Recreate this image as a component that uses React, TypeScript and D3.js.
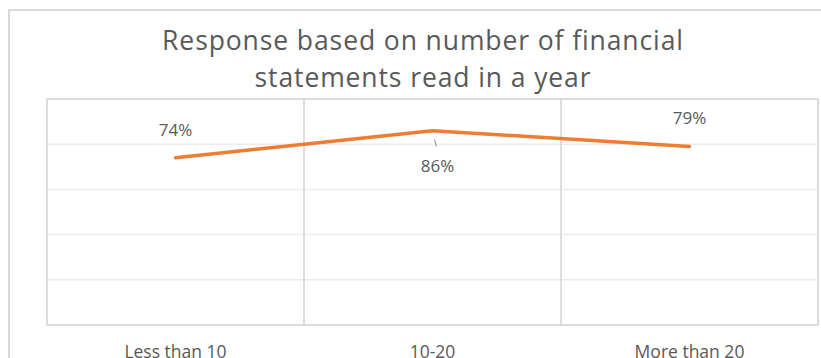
import React from "react";
import * as d3 from "d3";

const categories = ["Less than 10", "10-20", "More than 20"];
const values = [0.74, 0.86, 0.79];
const valueLabels = ["74%", "86%", "79%"];
const labelPlacement = ["above", "below", "above"];
const yTicks = [0, 0.2, 0.4, 0.6, 0.8, 1.0];
const titleLines = ["Response based on number of financial", "statements read in a year"];

const W = 821;
const H = 358;
const plot = { left: 47, right: 818, top: 99, bottom: 325 };

export default function App() {
  const x = d3.scaleBand<string>().domain(categories).range([plot.left, plot.right]).paddingInner(0).paddingOuter(0);
  const y = d3.scaleLinear().domain([0, 1]).range([plot.bottom, plot.top]);
  const cx = (c: string) => (x(c) as number) + x.bandwidth() / 2;
  const line = d3
    .line<number>()
    .x((_, i) => cx(categories[i]))
    .y((d) => y(d));
  const font = "'Open Sans', 'DejaVu Sans', sans-serif";
  const grey = "#595959";

  return (
    <svg
      width={W}
      height={H}
      style={{ position: "absolute", left: 0, top: 0, background: "#fff" }}
      fontFamily={font}
    >
      <rect x={0} y={0} width={W} height={H} fill="#fff" />
      {/* outer chart border */}
      <rect x={9} y={10} width={W + 20} height={H + 20} fill="#fff" stroke="#d9d9d9" strokeWidth={2} />
      {/* title */}
      {titleLines.map((t, i) => (
        <text
          key={i}
          x={423}
          y={50 + i * 37}
          textAnchor="middle"
          fontSize={26.5}
          letterSpacing={0.9}
          fill={grey}
        >
          {t}
        </text>
      ))}
      {/* horizontal gridlines */}
      {yTicks.map((t) => (
        <line
          key={t}
          x1={plot.left}
          x2={plot.right}
          y1={y(t)}
          y2={y(t)}
          stroke="#ececec"
          strokeWidth={1.5}
        />
      ))}
      {/* plot frame */}
      <rect
        x={plot.left}
        y={plot.top}
        width={plot.right - plot.left}
        height={plot.bottom - plot.top}
        fill="none"
        stroke="#dcdcdc"
        strokeWidth={2}
      />
      {/* vertical category separators */}
      {categories.slice(1).map((c) => (
        <line
          key={c}
          x1={x(c) as number}
          x2={x(c) as number}
          y1={plot.top}
          y2={plot.bottom}
          stroke="#d4d4d4"
          strokeWidth={1.5}
        />
      ))}
      {/* line series */}
      <path d={line(values) || ""} fill="none" stroke="#ED7D31" strokeWidth={3.5} strokeLinecap="round" strokeLinejoin="round" />
      {/* data labels */}
      {values.map((v, i) => {
        const px = cx(categories[i]);
        const py = y(v);
        const below = labelPlacement[i] === "below";
        return (
          <g key={i}>
            {below && (
              <line x1={px + 2} y1={py + 9} x2={px + 4} y2={py + 16} stroke="#8a8a8a" strokeWidth={1} />
            )}
            <text
              x={below ? px + 5 : px}
              y={below ? py + 41 : py - 22}
              textAnchor="middle"
              fontSize={17}
              fill={grey}
            >
              {valueLabels[i]}
            </text>
          </g>
        );
      })}
      {/* category labels */}
      {categories.map((c) => (
        <text key={c} x={cx(c)} y={358} textAnchor="middle" fontSize={17.5} fill={grey}>
          {c}
        </text>
      ))}
    </svg>
  );
}
